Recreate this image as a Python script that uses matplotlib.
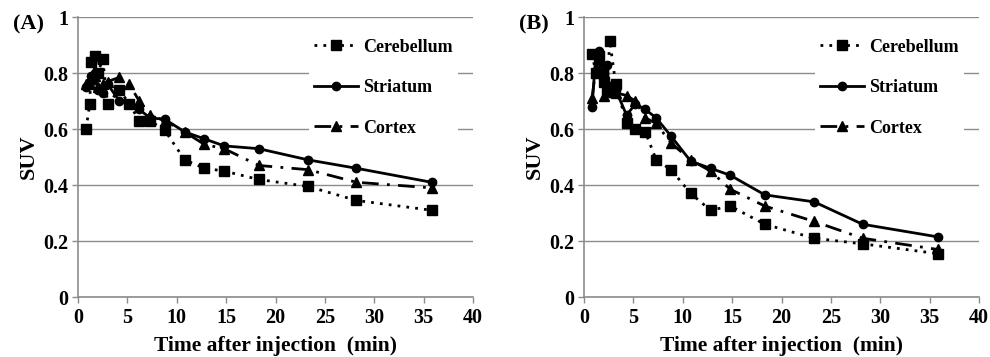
import matplotlib
matplotlib.use("Agg")
import matplotlib.pyplot as plt

plt.rcParams['font.family'] = ['Liberation Serif', 'DejaVu Serif']
plt.rcParams['font.weight'] = 'bold'

# Panel A data
time_a_cb = [0.8, 1.2, 1.3, 1.7, 2.0, 2.5, 3.0, 4.2, 5.2, 6.2, 7.3, 8.8, 10.8, 12.8, 14.8, 18.3, 23.3, 28.2, 35.8]
a_cerebellum = [0.60, 0.69, 0.84, 0.86, 0.80, 0.85, 0.69, 0.74, 0.69, 0.63, 0.63, 0.595, 0.49, 0.46, 0.45, 0.42, 0.395, 0.345, 0.31]
a_striatum = [0.75, 0.77, 0.79, 0.80, 0.74, 0.73, 0.76, 0.70, 0.69, 0.67, 0.64, 0.635, 0.59, 0.565, 0.54, 0.53, 0.49, 0.46, 0.41]
a_cortex = [0.76, 0.76, 0.78, 0.79, 0.75, 0.76, 0.77, 0.785, 0.76, 0.70, 0.65, 0.63, 0.59, 0.545, 0.53, 0.47, 0.455, 0.41, 0.39]

# Panel B data
time_b = [0.8, 1.2, 1.5, 2.0, 2.3, 2.6, 3.2, 4.3, 5.2, 6.2, 7.3, 8.8, 10.8, 12.8, 14.8, 18.3, 23.3, 28.2, 35.8]
b_cerebellum = [0.87, 0.80, 0.86, 0.77, 0.74, 0.915, 0.76, 0.62, 0.60, 0.59, 0.49, 0.455, 0.37, 0.31, 0.325, 0.26, 0.21, 0.19, 0.155]
b_striatum = [0.68, 0.87, 0.88, 0.80, 0.83, 0.73, 0.74, 0.65, 0.69, 0.67, 0.64, 0.575, 0.485, 0.46, 0.435, 0.365, 0.34, 0.26, 0.215]
b_cortex = [0.71, 0.82, 0.85, 0.72, 0.77, 0.75, 0.73, 0.72, 0.70, 0.64, 0.62, 0.55, 0.49, 0.45, 0.385, 0.325, 0.27, 0.21, 0.17]

x_ticks = [0, 5, 10, 15, 20, 25, 30, 35, 40]
y_ticks = [0, 0.2, 0.4, 0.6, 0.8, 1]
y_ticklabels = ['0', '0.2', '0.4', '0.6', '0.8', '1']
panel_labels = ['(A)', '(B)']

fig = plt.figure(figsize=(9.9, 3.57), dpi=100)
ax_a = fig.add_axes([0.0788, 0.168, 0.399, 0.784])
ax_b = fig.add_axes([0.590, 0.168, 0.399, 0.784])

datasets = [
    (ax_a, time_a_cb, a_cerebellum, a_striatum, a_cortex),
    (ax_b, time_b, b_cerebellum, b_striatum, b_cortex),
]

for i, (ax, t, cb, st, cx) in enumerate(datasets):
    ax.plot(t, cb, color='black', linestyle=(0, (1, 2.2)), linewidth=2.0,
            marker='s', markersize=7, label='Cerebellum', zorder=3)
    ax.plot(t, st, color='black', linestyle='-', linewidth=2.0,
            marker='o', markersize=6, label='Striatum', zorder=3)
    ax.plot(t, cx, color='black', linestyle=(0, (6, 3, 1, 3)), linewidth=2.0,
            marker='^', markersize=7, label='Cortex', zorder=3)
    ax.set_xlim(0, 40)
    ax.set_ylim(0, 1)
    ax.set_xticks(x_ticks)
    ax.set_yticks(y_ticks)
    ax.set_yticklabels(y_ticklabels)
    ax.tick_params(axis='both', labelsize=14.5, length=4, color='#8c8c8c', width=1)
    ax.tick_params(axis='x', pad=4)
    ax.tick_params(axis='y', pad=3)
    ax.yaxis.grid(True, color='#8c8c8c', linewidth=1)
    ax.set_axisbelow(True)
    for s in ['top', 'right']:
        ax.spines[s].set_visible(False)
    for s in ['left', 'bottom']:
        ax.spines[s].set_color('#8c8c8c')
        ax.spines[s].set_linewidth(1.2)
    ax.set_xlabel('Time after injection  (min)', fontsize=15.5, fontweight='bold', labelpad=6)
    ax.set_ylabel('SUV', fontsize=16, fontweight='bold', labelpad=3)
    for lab in ax.get_xticklabels() + ax.get_yticklabels():
        lab.set_fontweight('bold')
    ax.text(-0.165, 0.975, panel_labels[i], transform=ax.transAxes, fontsize=16,
            fontweight='bold', ha='left', va='center')
    leg = ax.legend(loc='upper right', bbox_to_anchor=(0.985, 0.975), frameon=True,
                    fontsize=13, handlelength=2.4, handletextpad=0.3,
                    labelspacing=1.3, borderpad=0.3)
    leg.get_frame().set_edgecolor('none')
    leg.get_frame().set_facecolor('white')
    leg.get_frame().set_alpha(1)

fig.savefig('out.png', dpi=100)
